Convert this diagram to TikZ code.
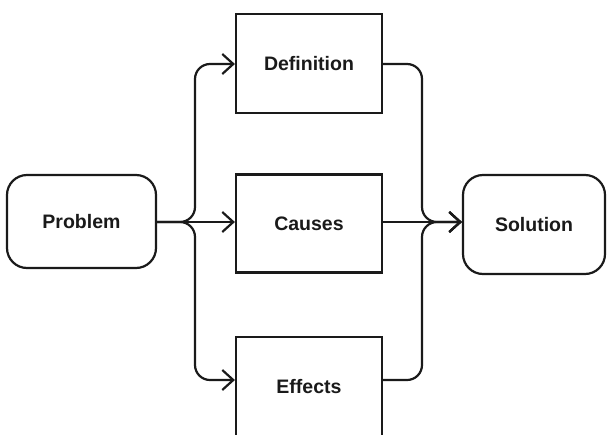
\documentclass[tikz,border=0pt]{standalone}
\usepackage{fontspec}
\setmainfont{Liberation Sans}
\usetikzlibrary{arrows.meta,calc}
\definecolor{ink}{HTML}{1A1A1A}
\begin{document}
\begin{tikzpicture}[x=1pt,y=-1pt,
  box/.style={draw=ink,line width=2.2pt,fill=white,inner sep=0pt,
    font=\fontsize{19.5}{22}\selectfont\bfseries,text=ink},
  rbox/.style={box,rounded corners=20pt},
  arr/.style={draw=ink,line width=2.2pt,rounded corners=15pt,
    -{Straight Barb[length=11pt,width=20pt]}}]
\clip (0,0) rectangle (607,434);
\fill[white] (0,0) rectangle (607,434);
\node[rbox,minimum width=149pt,minimum height=93pt] (Problem) at (81.5,221.5) {Problem};
\node[box,minimum width=146pt,minimum height=99pt] (Definition) at (309,63.5) {Definition};
\node[box,minimum width=146pt,minimum height=98pt] (Causes) at (309,223.5) {Causes};
\node[box,minimum width=146pt,minimum height=99pt] (Effects) at (309,386.5) {Effects};
\node[rbox,minimum width=142pt,minimum height=99pt] (Solution) at (534,224.5) {Solution};
\coordinate (jl) at (195,222);
\coordinate (jr) at (422,222);
\coordinate (din) at ($(Definition.west)+(0,0.5)$);
\coordinate (ein) at ($(Effects.west)+(0,-6.5)$);
\draw[arr] (Problem.east |- jl) -- (Causes.west |- jl);
\draw[arr] (Problem.east |- jl) -| (jl |- din) -- (din);
\draw[arr] (Problem.east |- jl) -| (jl |- ein) -- (ein);
\draw[arr] (Causes.east |- jr) -- (Solution.west |- jr);
\draw[arr] (Definition.east |- din) -| (jr) -- (Solution.west |- jr);
\draw[arr] (Effects.east |- ein) -| (jr) -- (Solution.west |- jr);
\end{tikzpicture}
\end{document}
